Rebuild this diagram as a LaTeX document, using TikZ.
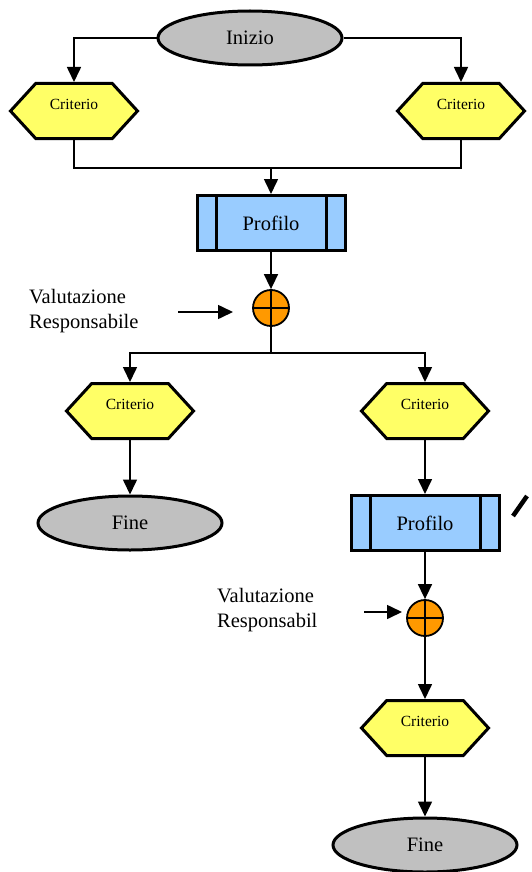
\documentclass[tikz,border=0pt]{standalone}
\usepackage{fontspec}
\setmainfont{Liberation Serif}
\usetikzlibrary{arrows.meta,shapes.geometric,shapes.symbols}

\definecolor{termgray}{HTML}{C0C0C0}
\definecolor{crityellow}{HTML}{FFFF66}
\definecolor{profblue}{HTML}{99CCFF}
\definecolor{oporange}{HTML}{FF9900}

\begin{document}
\begin{tikzpicture}[x=1pt,y=-1pt,
  terminal/.style={ellipse, draw, line width=3pt, fill=termgray,
    minimum width=184pt, minimum height=54pt, inner sep=0pt,
    font=\fontsize{20.5}{24}\selectfont},
  criterion/.style={signal, signal to=east and west, signal pointer angle=95,
    draw, line width=3pt, fill=crityellow, minimum width=127pt,
    minimum height=55pt, inner sep=0pt, font=\fontsize{15.5}{18}\selectfont,
    text height=9pt, text depth=12pt},
  profile/.style={rectangle, draw, line width=3pt, fill=profblue,
    minimum width=148pt, minimum height=55pt, inner sep=0pt,
    font=\fontsize{20.5}{24}\selectfont,
    path picture={
      \draw[line width=3pt]
        ([xshift=19pt]path picture bounding box.north west) --
        ([xshift=19pt]path picture bounding box.south west)
        ([xshift=-19pt]path picture bounding box.north east) --
        ([xshift=-19pt]path picture bounding box.south east);}},
  xorop/.style={circle, draw, line width=1.8pt, fill=oporange,
    minimum size=36pt, inner sep=0pt,
    path picture={
      \draw[line width=1.8pt]
        (path picture bounding box.north) -- (path picture bounding box.south)
        (path picture bounding box.west) -- (path picture bounding box.east);}},
  label/.style={anchor=west, align=left, inner sep=0pt,
    font=\fontsize{20.5}{24.5}\selectfont},
  conn/.style={line width=1.6pt},
  arr/.style={conn, -{Triangle[length=15pt,width=14pt]}}
]
\useasboundingbox (0,0) rectangle (531,872);

% nodes
\node[terminal] (start) at (250,38) {Inizio};
\node[criterion] (c1) at (74,111) {Criterio};
\node[criterion] (c2) at (461,111) {Criterio};
\coordinate (j1) at (271,168);
\node[profile] (p1) at (271,223) {Profilo};
\node[xorop] (x1) at (271,308) {};
\node[label] (v1) at (29,311) {Valutazione\\Responsabile};
\coordinate (a1) at (178,312);
\coordinate (a1e) at (233,312);
\coordinate (j2) at (271,353);
\node[criterion] (c3) at (130,411) {Criterio};
\node[criterion] (c4) at (425,411) {Criterio};
\node[terminal] (end1) at (130,523) {Fine};
\node[profile] (p2) at (425,523) {Profilo};
\node[xorop] (x2) at (425,618) {};
\node[label] (v2) at (217,610) {Valutazione\\Responsabil};
\coordinate (a2) at (364,612);
\coordinate (a2e) at (402,612);
\node[criterion] (c5) at (425,728) {Criterio};
\node[terminal] (end2) at (425,845) {Fine};

% connectors
\draw[arr] (start.west) -| (c1.north);
\draw[arr] (start.east) -| (c2.north);
\draw[conn] (c1.south) |- (j1) -| (c2.south);
\draw[arr] (j1) -- (p1.north);
\draw[arr] (p1.south) -- (x1.north);
\draw[arr] (a1) -- (a1e);
\draw[conn] (x1.south) -- (j2);
\draw[arr] (j2) -| (c3.north);
\draw[arr] (j2) -| (c4.north);
\draw[arr] (c3.south) -- (end1.north);
\draw[arr] (c4.south) -- (p2.north);
\draw[arr] (p2.south) -- (x2.north);
\draw[arr] (a2) -- (a2e);
\draw[arr] (x2.south) -- (c5.north);
\draw[arr] (c5.south) -- (end2.north);

% slash mark beside the second profile box
\draw[line width=4.5pt] (513,516) -- (527,496);
\end{tikzpicture}
\end{document}
